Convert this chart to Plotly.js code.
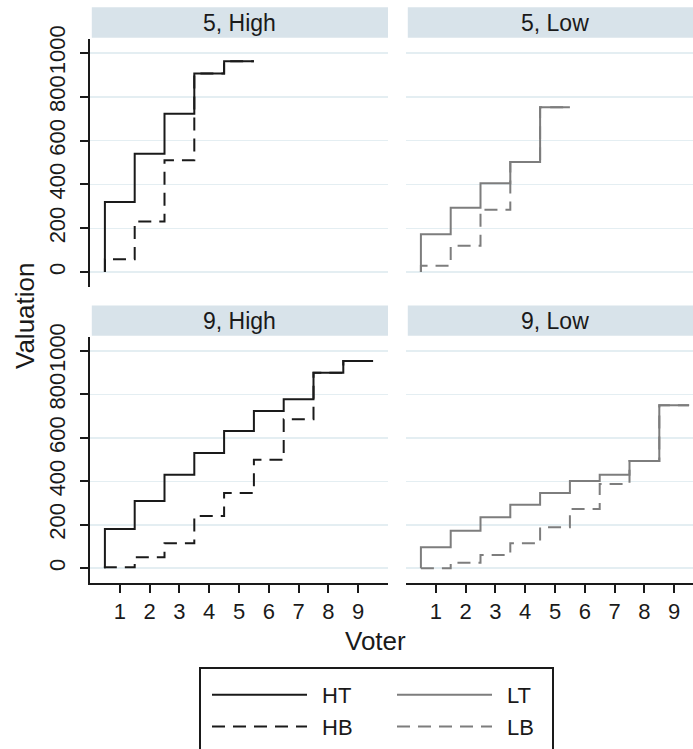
<!DOCTYPE html>
<html>
<head>
<meta charset="utf-8">
<script src="https://cdn.plot.ly/plotly-3.0.1.min.js"></script>
<style>
  html, body { margin: 0; padding: 0; background: #fff; overflow: hidden; }
  #chart { width: 705px; height: 749px; }
</style>
</head>
<body>
<div id="chart"></div>
<script>
// ---- data ----
const voters5 = [1, 2, 3, 4, 5];
const voters9 = [1, 2, 3, 4, 5, 6, 7, 8, 9];

// panel "5, High"
const ht5 = [320, 540, 723, 906, 962];
const hb5 = [59, 231, 511, 906, 962];
// panel "5, Low"
const lt5 = [173, 294, 405, 502, 752];
const lb5 = [29, 120, 285, 502, 752];
// panel "9, High"
const ht9 = [181, 309, 430, 530, 631, 724, 778, 900, 953];
const hb9 = [5, 51, 115, 240, 346, 499, 686, 900, 953];
// panel "9, Low"
const lt9 = [96, 173, 234, 292, 346, 401, 430, 493, 750];
const lb9 = [0, 25, 61, 115, 188, 273, 388, 493, 750];

const panelTitles = ["5, High", "5, Low", "9, High", "9, Low"];
const yTicks = [0, 200, 400, 600, 800, 1000];
const xTicks = [1, 2, 3, 4, 5, 6, 7, 8, 9];

// ---- styles ----
const FONT = "Liberation Sans, Arial, sans-serif";
const DARK = "#1a1a1a";
const GREY = "#7d7d7d";
const GRID = "#e4eef2";
const STRIP = "#d8e3ea";
const DASH = "13px,8px";

function stepTrace(voters, vals, name, color, dash, xa, ya, legend, showlegend, rank) {
  const x = [voters[0] - 0.5].concat(voters.map(v => v + 0.5));
  const y = [0].concat(vals);
  return {
    x: x, y: y, type: "scatter", mode: "lines", name: name,
    line: { shape: "vh", color: color, width: 2, dash: dash },
    xaxis: xa, yaxis: ya, legend: legend, showlegend: showlegend,
    legendgroup: name, legendrank: rank, hoverinfo: "skip"
  };
}

// dashed series first so the solid ones are drawn on top
const traces = [
  stepTrace(voters5, hb5, "HB", DARK, DASH, "x", "y", "legend", false, 2),
  stepTrace(voters5, ht5, "HT", DARK, "solid", "x", "y", "legend", false, 1),
  stepTrace(voters5, lb5, "LB", GREY, DASH, "x2", "y2", "legend2", false, 2),
  stepTrace(voters5, lt5, "LT", GREY, "solid", "x2", "y2", "legend2", false, 1),
  stepTrace(voters9, hb9, "HB", DARK, DASH, "x3", "y3", "legend", true, 2),
  stepTrace(voters9, ht9, "HT", DARK, "solid", "x3", "y3", "legend", true, 1),
  stepTrace(voters9, lb9, "LB", GREY, DASH, "x4", "y4", "legend2", true, 2),
  stepTrace(voters9, lt9, "LT", GREY, "solid", "x4", "y4", "legend2", true, 1)
];

// ---- geometry ----
const W = 705, H = 749;
const mL = 90, mR = 1, mT = 39, mB = 166;
const pw = W - mL - mR, ph = H - mT - mB;
const px2x = p => (p - mL) / pw;
const px2y = p => (H - mB - p) / ph;

const xLeft = [0, px2x(388)];
const xRight = [px2x(406), 1];
const yTop = [px2y(287), 1];
const yBot = [0, px2y(337)];

const yRange = [-68, 1064];
const xRange = [0, 10];

function yax(domain, left, anchor) {
  return {
    domain: domain, range: yRange, tickvals: yTicks, ticktext: yTicks.map(String),
    anchor: anchor,
    showgrid: true, gridcolor: GRID, gridwidth: 1.5, zeroline: false,
    showline: left, linecolor: DARK, linewidth: 2,
    ticks: left ? "outside" : "", ticklen: 8, tickwidth: 2, tickcolor: DARK,
    showticklabels: left, tickangle: -90, ticklabelstandoff: 6,
    tickfont: { family: FONT, size: 22, color: DARK }, fixedrange: true
  };
}
function xax(domain, bottom, anchor) {
  return {
    domain: domain, range: xRange, tickvals: xTicks, ticktext: xTicks.map(String),
    anchor: anchor,
    showgrid: false, zeroline: false,
    showline: bottom, linecolor: DARK, linewidth: 2,
    ticks: bottom ? "outside" : "", ticklen: 8, tickwidth: 2, tickcolor: DARK,
    showticklabels: bottom, ticklabelstandoff: 0,
    tickfont: { family: FONT, size: 22, color: DARK }, fixedrange: true
  };
}

const axesIds = [["x", "y"], ["x2", "y2"], ["x3", "y3"], ["x4", "y4"]];
const shapes = [];
const annotations = [];
axesIds.forEach((ids, i) => {
  shapes.push({
    type: "rect", xref: ids[0] + " domain", yref: ids[1] + " domain",
    x0: 0.006, x1: 1, y0: 1.005, y1: 1.128,
    fillcolor: STRIP, line: { width: 0 }, layer: "below"
  });
  annotations.push({
    text: panelTitles[i], xref: ids[0] + " domain", yref: ids[1] + " domain",
    x: 0.5, y: 1.066, xanchor: "center", yanchor: "middle", showarrow: false,
    font: { family: FONT, size: 23, color: DARK }
  });
});

// axis titles
annotations.push({
  text: "Valuation", xref: "paper", yref: "paper", x: px2x(25), y: px2y(316),
  xanchor: "center", yanchor: "middle", textangle: -90, showarrow: false,
  font: { family: FONT, size: 26, color: DARK }
});
annotations.push({
  text: "Voter", xref: "paper", yref: "paper", x: px2x(375), y: px2y(641),
  xanchor: "center", yanchor: "middle", showarrow: false,
  font: { family: FONT, size: 26, color: DARK }
});

// legend frame
shapes.push({
  type: "rect", xref: "paper", yref: "paper",
  x0: px2x(200), x1: px2x(553), y0: px2y(668), y1: px2y(765),
  line: { color: DARK, width: 2 }, fillcolor: "rgba(0,0,0,0)"
});

const legendCommon = {
  orientation: "v", xanchor: "left", yanchor: "top",
  font: { family: FONT, size: 22, color: DARK },
  bgcolor: "rgba(0,0,0,0)", borderwidth: 0, itemwidth: 105,
  tracegroupgap: 8, traceorder: "normal", itemclick: false, itemdoubleclick: false
};

const layout = {
  width: W, height: H,
  margin: { l: mL, r: mR, t: mT, b: mB },
  paper_bgcolor: "#fff", plot_bgcolor: "#fff",
  font: { family: FONT, color: DARK },
  xaxis: xax(xLeft, false, "y"),
  yaxis: yax(yTop, true, "x"),
  xaxis2: xax(xRight, false, "y2"),
  yaxis2: yax(yTop, false, "x2"),
  xaxis3: xax(xLeft, true, "y3"),
  yaxis3: yax(yBot, true, "x3"),
  xaxis4: xax(xRight, true, "y4"),
  yaxis4: yax(yBot, false, "x4"),
  legend: Object.assign({}, legendCommon, { x: px2x(207), y: px2y(674) }),
  legend2: Object.assign({}, legendCommon, { x: px2x(392), y: px2y(674) }),
  shapes: shapes,
  annotations: annotations,
  showlegend: true
};

Plotly.newPlot("chart", traces, layout, { displayModeBar: false, staticPlot: true }).then(() => {
  // lengthen the legend line samples to match the reference key
  document.querySelectorAll(".legendlines path").forEach(p => p.setAttribute("d", "M5,0h95"));
});
</script>
</body>
</html>
